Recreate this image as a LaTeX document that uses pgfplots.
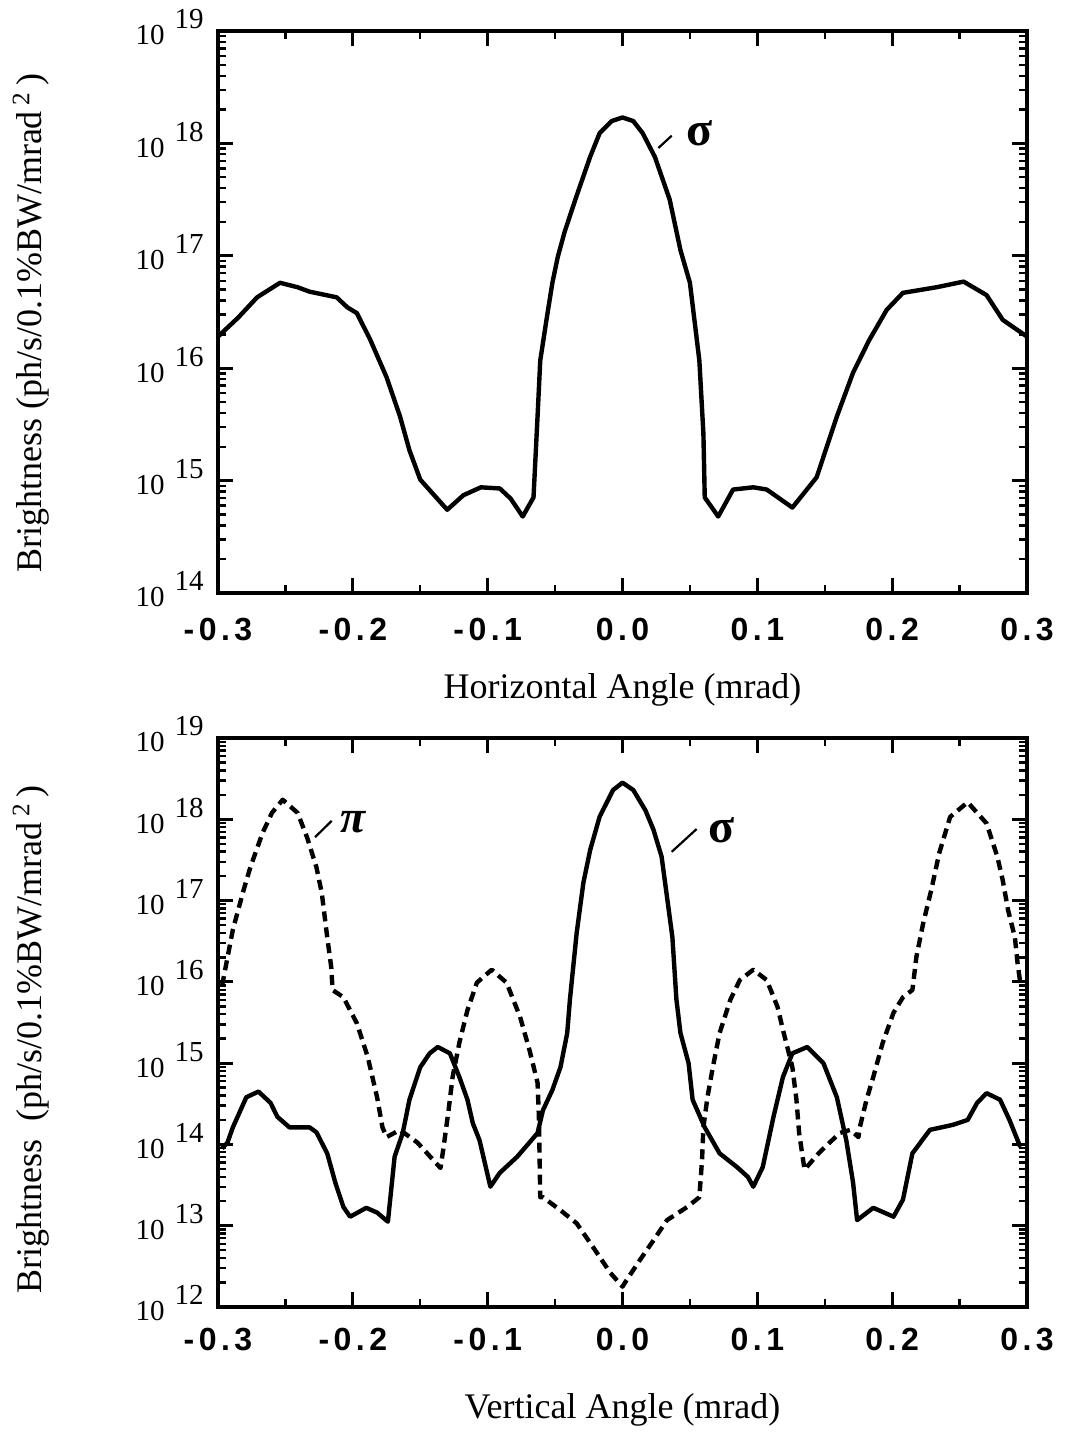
\documentclass[border=0pt]{standalone}
\usepackage{fontspec}
\setmainfont{Liberation Serif}
\setsansfont{Liberation Sans}
\newfontfamily\ticksf[LetterSpace=14]{Liberation Sans Bold}
\usepackage{pgfplots}
\pgfplotsset{compat=1.18}

\newcommand{\ylab}[1]{10\hspace{5pt}\raisebox{8pt}{#1}}

\pgfplotsset{
  every axis/.append style={
    scale only axis, width=404.5pt,
    xmin=-0.3, xmax=0.3,
    xtick={-0.3,-0.2,-0.1,0,0.1,0.2,0.3},
    xticklabels={-0.3,-0.2,-0.1,0.0,0.1,0.2,0.3},
    minor x tick num=1,
    axis line style={line width=2pt},
    major tick style={line width=1.4pt, black},
    minor tick style={line width=1.2pt, black},
    major tick length=7.5pt, minor tick length=4pt,
    tick align=inside,
    xticklabel style={font=\fontsize{16}{18}\ticksf, anchor=base, yshift=-24pt},
    yticklabel style={font=\fontsize{14.5}{16}\selectfont, anchor=base east, inner sep=0pt, xshift=-7pt, yshift=-7pt},
    label style={font=\fontsize{18}{21}\selectfont},
    clip=false,
  },
}

\pgfplotstableread{
x y
-0.300 1.91e16
-0.285 2.82e16
-0.271 4.27e16
-0.254 5.75e16
-0.241 5.25e16
-0.232 4.79e16
-0.212 4.27e16
-0.204 3.47e16
-0.197 3.09e16
-0.187 1.78e16
-0.175 8.32e15
-0.165 3.72e15
-0.158 1.86e15
-0.150 1.02e15
-0.130 5.50e14
-0.118 7.41e14
-0.105 8.71e14
-0.091 8.51e14
-0.083 6.92e14
-0.074 4.79e14
-0.066 7.08e14
-0.063 3.72e15
-0.061 1.17e16
-0.056 2.88e16
-0.052 5.75e16
-0.048 9.77e16
-0.043 1.62e17
-0.035 3.16e17
-0.024 7.59e17
-0.017 1.23e18
-0.008 1.58e18
0.000 1.70e18
0.008 1.58e18
0.015 1.23e18
0.024 7.59e17
0.035 3.16e17
0.043 1.12e17
0.050 5.75e16
0.057 1.17e16
0.060 2.63e15
0.061 7.08e14
0.071 4.79e14
0.082 8.32e14
0.097 8.71e14
0.107 8.32e14
0.126 5.75e14
0.144 1.07e15
0.159 3.72e15
0.171 9.12e15
0.183 1.78e16
0.196 3.31e16
0.208 4.68e16
0.233 5.25e16
0.253 5.89e16
0.270 4.47e16
0.282 2.69e16
0.300 1.91e16
}\topsigma

\pgfplotstableread{
x y
-0.297 8.91e15
-0.289 4.37e16
-0.281 1.35e17
-0.276 2.57e17
-0.267 6.76e17
-0.260 1.20e18
-0.252 1.74e18
-0.241 1.20e18
-0.234 6.03e17
-0.227 2.57e17
-0.223 1.23e17
-0.219 3.55e16
-0.216 1.51e16
-0.215 7.94e15
-0.207 6.46e15
-0.197 3.09e15
-0.189 1.20e15
-0.182 3.80e14
-0.178 1.62e14
-0.175 1.23e14
-0.165 1.51e14
-0.152 1.05e14
-0.135 5.13e13
-0.133 8.51e13
-0.129 2.63e14
-0.126 6.76e14
-0.121 1.78e15
-0.115 4.47e15
-0.108 9.77e15
-0.097 1.41e16
-0.086 9.77e15
-0.076 3.72e15
-0.069 1.45e15
-0.063 5.75e14
-0.062 2.19e14
-0.061 2.24e13
-0.059 2.24e13
-0.046 1.55e13
-0.034 1.07e13
-0.022 5.50e12
-0.009 2.63e12
0.000 1.78e12
0.003 2.14e12
0.013 3.80e12
0.023 6.61e12
0.033 1.17e13
0.048 1.70e13
0.057 2.24e13
0.059 6.46e13
0.060 1.62e14
0.063 3.80e14
0.067 8.91e14
0.072 2.34e15
0.080 6.03e15
0.087 1.05e16
0.097 1.41e16
0.107 1.05e16
0.115 4.90e15
0.119 2.57e15
0.126 8.91e14
0.129 3.55e14
0.131 1.38e14
0.135 4.90e13
0.146 7.94e13
0.161 1.38e14
0.169 1.51e14
0.175 1.23e14
0.176 1.62e14
0.181 3.55e14
0.186 6.76e14
0.193 1.78e15
0.201 4.17e15
0.208 6.46e15
0.215 7.94e15
0.218 2.04e16
0.223 5.25e16
0.229 1.35e17
0.235 3.89e17
0.243 1.07e18
0.256 1.62e18
0.270 8.91e17
0.278 3.47e17
0.282 1.78e17
0.286 7.59e16
0.291 3.55e16
0.293 1.70e16
0.295 9.77e15
}\botpi

\pgfplotstableread{
x y
-0.297 8.91e13
-0.293 1.05e14
-0.289 1.62e14
-0.279 3.80e14
-0.270 4.47e14
-0.261 3.24e14
-0.256 2.19e14
-0.247 1.62e14
-0.232 1.62e14
-0.227 1.41e14
-0.219 7.76e13
-0.213 3.39e13
-0.207 1.70e13
-0.202 1.29e13
-0.190 1.66e13
-0.182 1.45e13
-0.174 1.12e13
-0.171 3.39e13
-0.169 7.08e13
-0.163 1.38e14
-0.158 3.55e14
-0.150 8.91e14
-0.143 1.32e15
-0.137 1.58e15
-0.128 1.32e15
-0.121 6.76e14
-0.115 3.55e14
-0.111 1.82e14
-0.106 1.12e14
-0.098 3.02e13
-0.091 4.47e13
-0.078 7.08e13
-0.063 1.38e14
-0.059 2.63e14
-0.052 4.68e14
-0.046 8.91e14
-0.041 2.34e15
-0.039 6.03e15
-0.034 3.98e16
-0.029 1.66e17
-0.024 4.17e17
-0.017 1.07e18
-0.007 2.29e18
0.000 2.82e18
0.008 2.29e18
0.017 1.29e18
0.023 7.41e17
0.029 3.47e17
0.037 3.55e16
0.040 6.03e15
0.043 2.34e15
0.049 1.00e15
0.052 3.55e14
0.061 1.62e14
0.072 7.76e13
0.085 5.25e13
0.093 3.98e13
0.097 3.02e13
0.104 5.25e13
0.112 2.19e14
0.119 6.76e14
0.126 1.32e15
0.137 1.58e15
0.149 1.00e15
0.159 3.80e14
0.166 1.12e14
0.171 3.39e13
0.174 1.17e13
0.186 1.66e13
0.201 1.29e13
0.208 2.09e13
0.215 7.76e13
0.228 1.51e14
0.245 1.74e14
0.256 2.00e14
0.263 3.24e14
0.270 4.27e14
0.280 3.55e14
0.287 2.00e14
0.295 9.33e13
}\botsigma

\begin{document}
\begin{tikzpicture}
\useasboundingbox (0,0) rectangle (532.5pt,716pt);
\begin{axis}[ymode=log, at={(109pt,419.5pt)}, anchor=south west, height=281pt,
  ymin=1e14, ymax=1e19,
  ytick={1e14,1e15,1e16,1e17,1e18,1e19},
  yticklabels={\ylab{14},\ylab{15},\ylab{16},\ylab{17},\ylab{18},\ylab{19}},
  xlabel={Horizontal Angle (mrad)},
  xlabel style={at={(axis description cs:0.5,0)}, anchor=center, yshift=-48.5pt},
  ylabel={Brightness (ph/s/0.1\%BW/mrad\,\textsuperscript{2}\,)},
  ylabel style={at={(axis description cs:-0.231,0.48)}, anchor=center},
]
\addplot[black, line width=2.2pt, line join=round, mark=none] table {\topsigma};
\draw[line width=1.1pt] (axis cs:0.0266,9.1e17) -- (axis cs:0.0365,1.17e18);
\node at (axis cs:0.0575,1.23e18) {\fontsize{24}{26}\selectfont\bfseries σ};
\end{axis}

\begin{axis}[ymode=log, at={(109pt,62.5pt)}, anchor=south west, height=284.5pt,
  ymin=1e12, ymax=1e19,
  ytick={1e12,1e13,1e14,1e15,1e16,1e17,1e18,1e19},
  yticklabels={\ylab{12},\ylab{13},\ylab{14},\ylab{15},\ylab{16},\ylab{17},\ylab{18},\ylab{19}},
  xticklabel style={yshift=2pt},
  xlabel={Vertical Angle (mrad)},
  xlabel style={at={(axis description cs:0.5,0)}, anchor=center, yshift=-51.5pt},
  ylabel={Brightness\ \ (ph/s/0.1\%BW/mrad\,\textsuperscript{2}\,)},
  ylabel style={at={(axis description cs:-0.231,0.47)}, anchor=center},
]
\addplot[black, line width=2.2pt, line join=round, mark=none] table {\botsigma};
\addplot[black, line width=2.2pt, line join=round, mark=none, dash pattern=on 5pt off 3pt] table {\botpi};
\draw[line width=1.1pt] (axis cs:0.0365,3.98e17) -- (axis cs:0.055,7.59e17);
\node at (axis cs:0.0736,7.41e17) {\fontsize{24}{26}\selectfont\bfseries σ};
\draw[line width=1.1pt] (axis cs:-0.228,6.03e17) -- (axis cs:-0.2157,9.55e17);
\node at (axis cs:-0.1997,9.33e17) {\fontsize{23}{25}\selectfont\bfseries\itshape π};
\end{axis}
\end{tikzpicture}
\end{document}
